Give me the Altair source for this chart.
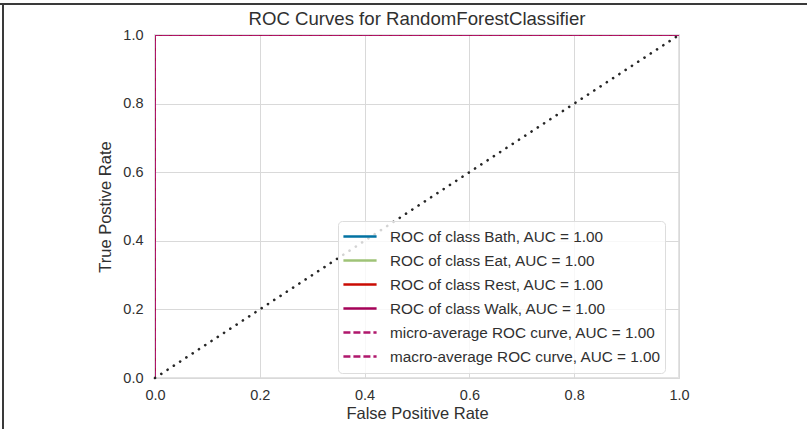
import altair as alt
import pandas as pd

# ROC curve points for each class of the RandomForestClassifier
series_names = [
    "ROC of class Bath, AUC = 1.00",
    "ROC of class Eat, AUC = 1.00",
    "ROC of class Rest, AUC = 1.00",
    "ROC of class Walk, AUC = 1.00",
    "micro-average ROC curve, AUC = 1.00",
    "macro-average ROC curve, AUC = 1.00",
]
series_colors = ["#0272a2", "#9fc377", "#ca0b03", "#a50258", "#b0176c", "#b0176c"]
series_dashes = [[1, 0], [1, 0], [1, 0], [1, 0], [7, 3], [7, 3]]
fpr_points = [0.0, 0.0, 1.0]
tpr_points = [0.0, 1.0, 1.0]

diag_fpr = [0.0, 1.0]
diag_tpr = [0.0, 1.0]

tick_values = [0.0, 0.2, 0.4, 0.6, 0.8, 1.0]

rows = []
for order, name in enumerate(series_names):
    for step, (fx, ty) in enumerate(zip(fpr_points, tpr_points)):
        rows.append({"series": name, "order": order, "step": step, "fpr": fx, "tpr": ty})
curves = pd.DataFrame(rows)
diag = pd.DataFrame({"fpr": diag_fpr, "tpr": diag_tpr})

FONT = "Liberation Sans"
TXT = "#303030"

x_enc = alt.X(
    "fpr:Q",
    scale=alt.Scale(domain=[0, 1], nice=False),
    axis=alt.Axis(values=tick_values, format=".1f", title="False Positive Rate"),
)
y_enc = alt.Y(
    "tpr:Q",
    scale=alt.Scale(domain=[0, 1], nice=False),
    axis=alt.Axis(values=tick_values, format=".1f", title="True Postive Rate"),
)

lines = alt.Chart(curves).mark_line(strokeWidth=2, opacity=0.75, clip=True).encode(
    x=x_enc,
    y=y_enc,
    color=alt.Color(
        "series:N",
        scale=alt.Scale(domain=series_names, range=series_colors),
        sort=series_names,
        legend=alt.Legend(
            title=None,
            orient="none",
            legendX=183,
            legendY=186,
            padding=4,
            fillColor="rgba(255,255,255,0.8)",
            strokeColor="#dddddd",
            cornerRadius=4,
            symbolType="stroke",
            symbolSize=1100,
            symbolStrokeWidth=2.5,
            symbolOpacity=1,
            labelFont=FONT,
            labelFontSize=15.3,
            labelColor=TXT,
            labelOffset=12,
            labelLimit=400,
            clipHeight=23.15,
            rowPadding=0,
        ),
    ),
    strokeDash=alt.StrokeDash(
        "series:N",
        scale=alt.Scale(domain=series_names, range=series_dashes),
        sort=series_names,
        legend=None,
    ),
    order="step:Q",
    detail="series:N",
)

diagonal = alt.Chart(diag).mark_line(
    color="#262626", strokeWidth=2.6, strokeDash=[0.1, 7.4], strokeCap="round"
).encode(x="fpr:Q", y="tpr:Q")

# notebook cell frame lines
frame_top = alt.Chart(diag).mark_rule(color="#3a3a3a", strokeWidth=2).encode(
    x=alt.value(-155), x2=alt.value(652), y=alt.value(-31)
)
frame_left = alt.Chart(diag).mark_rule(color="#3a3a3a", strokeWidth=2).encode(
    x=alt.value(-152), y=alt.value(-31), y2=alt.value(394)
)

chart = (
    alt.layer(lines, diagonal, frame_top, frame_left)
    .properties(
        width=524,
        height=343,
        title=alt.TitleParams(
            "ROC Curves for RandomForestClassifier",
            font=FONT,
            fontSize=18.6,
            fontWeight="normal",
            color=TXT,
            offset=7,
            dy=33,
        ),
        autosize=alt.AutoSizeParams(type="none"),
        padding={"left": 155, "top": 35, "right": 128, "bottom": 51},
    )
    .configure_view(stroke="#e3e3e3", strokeWidth=2)
    .configure_axis(
        grid=True,
        gridColor="#d9d9d9",
        gridWidth=1,
        ticks=False,
        domain=False,
        labelFlush=False,
        labelFont=FONT,
        labelFontSize=14.5,
        labelColor=TXT,
        titleFont=FONT,
        titleFontSize=16.5,
        titleFontWeight="normal",
        titleColor=TXT,
    )
    .configure_axisX(labelPadding=10, titlePadding=4)
    .configure_axisY(labelPadding=12, titlePadding=9)
)

chart.save("out.html", embed_options={"renderer": "svg", "actions": False})
